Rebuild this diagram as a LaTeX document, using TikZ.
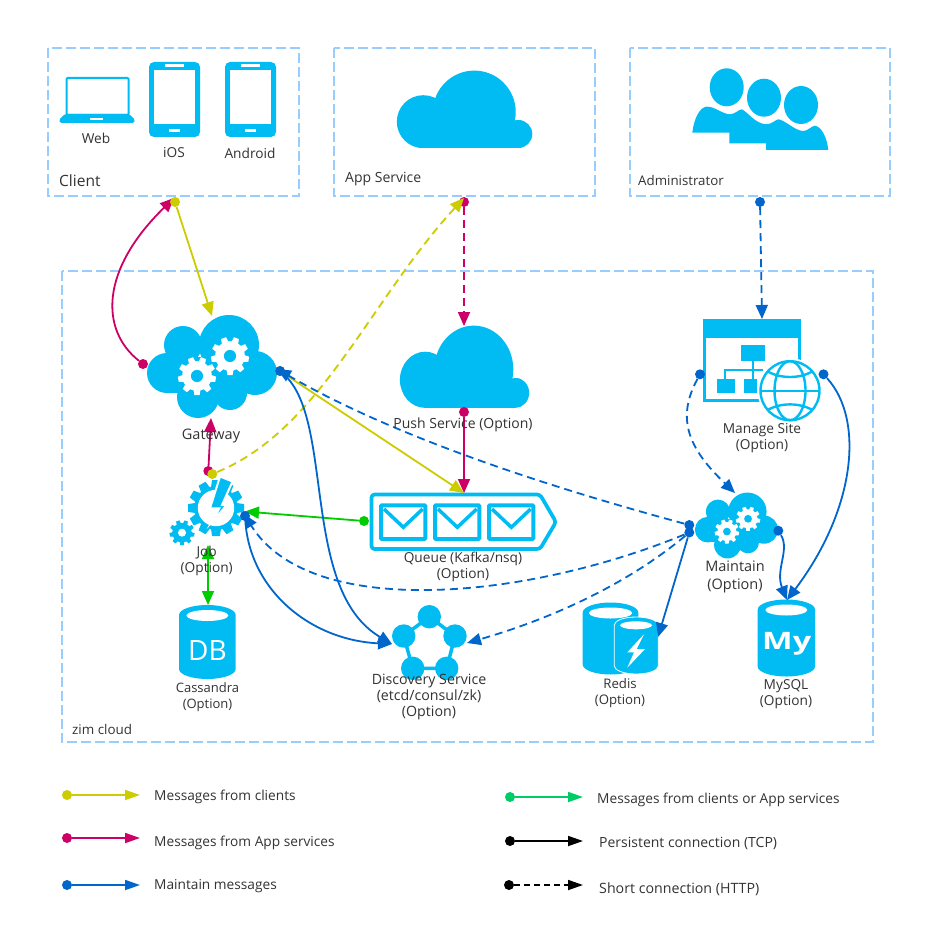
\documentclass[tikz,border=0pt]{standalone}
\usepackage{fontspec}
\setmainfont{Open Sans}
\usepackage{xcolor}
\usetikzlibrary{arrows.meta, positioning}
\definecolor{iconcyan}{HTML}{00BCF2}
\definecolor{boxblue}{HTML}{99CCFF}
\definecolor{msgyellow}{HTML}{CCCC00}
\definecolor{msgmagenta}{HTML}{CC0066}
\definecolor{msgblue}{HTML}{0066CC}
\definecolor{msggreen}{HTML}{00CC00}
\definecolor{msgmint}{HTML}{00CC66}
\definecolor{txtgray}{HTML}{333333}
\begin{document}
\begin{tikzpicture}[
    x=1pt, y=-1pt,
    >={Triangle[length=14pt,width=12pt]},
    zone/.style={draw=boxblue, line width=1.8pt, dash pattern=on 10pt off 4pt},
    lbl/.style={font=\fontsize{13.7}{16}\selectfont, text=txtgray, align=center, inner sep=0pt},
    caption/.style={lbl, anchor=west},
    dotnode/.style={circle, fill=#1, inner sep=0pt, minimum size=10pt},
    flow/.style={draw=#1, line width=1.8pt, ->},
    dashflow/.style={flow=#1, dash pattern=on 8pt off 5pt},
    legendtip/.style={line width=1.8pt, -{Triangle[length=15pt,width=10pt]}},
    icon/.style={fill=iconcyan},
    pics/cog/.style n args={4}{code={
        \fill[#1] (0,0) circle (.78);
        \foreach \a in {0,#4,...,359}
          \fill[#1, rotate=\a] (-.2,.6) -- (-.14,1) -- (.14,1) -- (.2,.6) -- cycle;
        \fill[#2] (0,0) circle (#3);
    }},
    pics/plaincloud/.style={code={
        \begin{scope}
          \clip (-80,-50) rectangle (80,38.65);
          \fill[iconcyan] (-40.7,12.35) circle (26.5);
          \fill[iconcyan] (10.3,2.65) circle (41.4);
          \fill[iconcyan] (54.3,24.65) circle (14);
          \fill[iconcyan] (-40.7,15) rectangle (54.3,38.65);
        \end{scope}
    }},
    pics/gearcloud/.style={code={
        \fill[iconcyan] (17,-21.5) circle (30);
        \fill[iconcyan] (-29,-21.5) circle (19);
        \fill[iconcyan] (-45,6.5) circle (20);
        \fill[iconcyan] (43,6.5) circle (22);
        \fill[iconcyan] (-14,30.5) circle (21);
        \fill[iconcyan] (18,26.5) circle (17);
        \fill[iconcyan] (-45,-10) rectangle (43,26);
        \pic[transform shape, scale=19] at (-15,9.5) {cog={white}{iconcyan}{.32}{40}};
        \pic[transform shape, scale=19] at (18,-10.5) {cog={white}{iconcyan}{.32}{40}};
    }},
    pics/phone/.style={code={
        \fill[iconcyan, rounded corners=5pt] (0,0) rectangle (51,75);
        \fill[white] (5,8) rectangle (46,62);
        \fill[white] (16,2.5) rectangle (35.3,5.3);
        \fill[white] (20,66.7) rectangle (31.3,69.7);
    }},
    pics/dbcan/.style n args={3}{code={
        % width, height, hole width
        \fill[iconcyan] (0,10) arc[start angle=180, end angle=360, x radius=#1/2, y radius=10]
          -- (#1,#2-10) arc[start angle=0, end angle=180, x radius=#1/2, y radius=10] -- cycle;
        \fill[white] (#1/2,10.5) ellipse ({#3} and 5.5);
    }},
  ]
  \fill[white] (0,0) rectangle (949,941);
  \useasboundingbox (0,0) rectangle (949,941);

  % Zones
  \draw[zone] (48,48) rectangle (299,196);
  \draw[zone] (334,48) rectangle (595,196);
  \draw[zone] (630,48) rectangle (890,196);
  \draw[zone] (62,271) rectangle (873,742);

  % Client icons
  \draw[draw=iconcyan, line width=2pt, fill=white, rounded corners=1pt] (66.5,78) rectangle (128.5,115);
  \fill[iconcyan, rounded corners=1.5pt] (65,114) -- (59,120) -- (60,123) -- (134,123) -- (135,120) -- (129,114) -- cycle;
  \fill[white] (90,118) rectangle (102.7,120);
  \pic at (149,62) {phone};
  \pic at (225,62) {phone};

  % App Service and Push Service
  \pic at (464,109.35) {plaincloud};
  \pic[xscale=.954, yscale=1.06] at (464,366.7) {plaincloud};

  % Administrator
  \fill[icon] (692.3,132.7) .. controls (694,118) and (700,107) .. (706.7,106.7)
    .. controls (714,106) and (722,114) .. (730,114.3)
    .. controls (735,114) and (738,110) .. (741.7,109.3)
    .. controls (748,112) and (755,124) .. (766.7,124.3)
    .. controls (772,124) and (775,120) .. (778.3,119.3)
    .. controls (785,120) and (795,131) .. (803.3,131)
    .. controls (808,131) and (811,126) .. (815,125.7)
    .. controls (822,127) and (827,138) .. (828.3,150)
    -- (766,150) -- (766,143.3) -- (729.3,143.3) -- (729.3,132.7) -- cycle;
  \fill[icon] (726.7,87.3) ellipse (17 and 19);
  \fill[icon] (764,97.7) ellipse (17 and 19);
  \fill[icon] (801,105) ellipse (17 and 19);

  % Gateway and Maintain
  \pic at (212,366.5) {gearcloud};
  \pic[scale=.64] at (736.5,525.5) {gearcloud};

  % Job
  \pic[scale=28] at (216,508) {cog={iconcyan}{white}{.65}{30}};
  \pic[scale=12.5] at (182,532.7) {cog={iconcyan}{white}{.32}{40}};
  \fill[iconcyan, draw=white, line width=2pt] (220,476.5) -- (232.5,481.5) -- (222,505) -- (227,505)
    -- (211.7,522) -- (219.3,508.3) -- (210,508.3) -- cycle;

  % Queue
  \draw[draw=iconcyan, line width=3.7pt, fill=white, rounded corners=3pt, line join=round]
    (371.5,494.5) -- (540,494.5) -- (556,522) -- (540,549) -- (371.5,549) -- cycle;
  \foreach \qx in {379,433,487} {
    \draw[draw=iconcyan, line width=4pt, rounded corners=1pt] (\qx+2,505.3) rectangle (\qx+46.3,539);
    \draw[draw=iconcyan, line width=3.5pt] (\qx+5,509) -- (\qx+24.3,527.3) -- (\qx+43.7,509);
  }

  % Manage Site
  \draw[draw=iconcyan, line width=2.7pt] (704.4,325) rectangle (799.6,400.6);
  \fill[icon] (703,319) rectangle (801,338);
  \fill[icon] (741,345) rectangle (765,361);
  \fill[icon] (717,379) rectangle (735,393);
  \fill[icon] (744,379) rectangle (757,393);
  \draw[draw=iconcyan, line width=1.8pt] (753,361) -- (753,379);
  \draw[draw=iconcyan, line width=1.8pt] (725,379) -- (725,370) -- (763,370);
  \fill[white] (790,390.7) circle (32.5);
  \draw[draw=iconcyan, line width=2.4pt] (790,390.7) circle (29.5);
  \draw[draw=iconcyan, line width=2.4pt] (790,390.7) ellipse (15.5 and 29.5);
  \draw[draw=iconcyan, line width=2.4pt] (760.5,390.7) -- (819.5,390.7);
  \draw[draw=iconcyan, line width=2.4pt] (767,371) .. controls (780,379) and (800,379) .. (813,371);
  \draw[draw=iconcyan, line width=2.4pt] (767,410.4) .. controls (780,402.4) and (800,402.4) .. (813,410.4);

  % Discovery Service
  \draw[draw=iconcyan, line width=3.5pt] (429.3,616.7) -- (455,636) -- (446.7,668.3) -- (412.7,668.3) -- (403.7,636) -- cycle;
  \foreach \sx/\sy in {429.3/616.7, 455/636, 446.7/668.3, 412.7/668.3, 403.7/636}
    \fill[icon] (\sx,\sy) circle (11.7);

  % Databases
  \pic at (179,605) {dbcan={56.7}{74}{21}};
  \node[font=\fontsize{28}{28}\selectfont, text=white, inner sep=0pt] (dbLogo) at (207.5,650) {DB};
  \pic at (582.7,602.5) {dbcan={55.6}{72}{21.7}};
  \fill[iconcyan, draw=white, line width=.8pt] (614.3,625) arc[start angle=180, end angle=360, x radius=22, y radius=8]
    -- (658.3,666) arc[start angle=0, end angle=180, x radius=22, y radius=8] -- cycle;
  \fill[white] (636,625.3) ellipse (16 and 4);
  \fill[white] (644,634.3) -- (627.3,652.3) -- (634,652.3) -- (627.3,667.7) -- (645,649) -- (636.7,649) -- cycle;
  \pic at (757.7,599.5) {dbcan={57.3}{77}{21}};
  \node[font=\fontsize{24}{24}\selectfont\bfseries, text=white, inner sep=0pt, xscale=1.35] (myLogo) at (786.7,644) {My};

  % Free ends of the connectors
  \coordinate (clientIn) at (174,198);
  \coordinate (gatewayTop) at (212,316);
  \coordinate (appIn) at (464,198);
  \coordinate (pushTop) at (464,326);
  \coordinate (queueTop) at (464,493);
  \coordinate (gatewayBottom) at (211,418);
  \coordinate (gatewayRight) at (277,369);
  \coordinate (jobRight) at (244,514);
  \coordinate (jobArrow) at (245,511.5);
  \coordinate (jobBottom) at (208,545);
  \coordinate (cassandraTop) at (208,605);
  \coordinate (discoveryLeft) at (392,644);
  \coordinate (discoveryRight) at (467,643);
  \coordinate (redisRight) at (658,637);
  \coordinate (mysqlTop) at (787,600);
  \coordinate (manageTop) at (762,319);
  \coordinate (maintainTop) at (735,493);

  % Messages from App services
  \node[dotnode=msgmagenta] (gatewayOut) at (143,364) {};
  \draw[flow=msgmagenta] (gatewayOut) .. controls (100,330) and (100,270) .. (clientIn);
  \node[dotnode=msgmagenta] (appOut) at (464,202) {};
  \draw[dashflow=msgmagenta] (appOut) -- (pushTop);
  \node[dotnode=msgmagenta] (pushOut) at (464,412) {};
  \draw[flow=msgmagenta] (pushOut) -- (queueTop);
  \node[dotnode=msgmagenta] (jobOut) at (208.3,471) {};
  \draw[flow=msgmagenta] (jobOut) -- (gatewayBottom);

  % Messages from clients
  \node[dotnode=msgyellow] (clientOut) at (175,202) {};
  \draw[flow=msgyellow] (clientOut) -- (gatewayTop);
  \node[dotnode=msgyellow] (jobApp) at (212.3,474) {};
  \draw[dashflow=msgyellow] (jobApp) .. controls (320,430) and (370,300) .. (appIn);
  \node[dotnode=msgyellow] (gatewayQueue) at (280,371) {};
  \draw[flow=msgyellow] (gatewayQueue) -- (queueTop);

  % Messages from clients or App services
  \node[dotnode=msggreen] (queueOut) at (364,521) {};
  \draw[flow=msggreen] (queueOut) -- (jobArrow);
  \draw[flow=msggreen, <->] (jobBottom) -- (cassandraTop);

  % Maintain messages
  \node[dotnode=msgblue] (adminOut) at (760,202) {};
  \draw[dashflow=msgblue] (adminOut) -- (manageTop);
  \node[dotnode=msgblue] (manageLeft) at (700,374.3) {};
  \draw[dashflow=msgblue] (manageLeft) .. controls (675,420) and (690,450) .. (maintainTop);
  \node[dotnode=msgblue] (manageRight) at (823.5,374.3) {};
  \draw[flow=msgblue] (manageRight) .. controls (865,420) and (855,510) .. (mysqlTop);
  \node[dotnode=msgblue] (maintainRight) at (778.3,530.7) {};
  \draw[flow=msgblue] (maintainRight) .. controls (790,550) and (775,570) .. (mysqlTop);
  \node[dotnode=msgblue] (maintainUp) at (689.3,525) {};
  \draw[dashflow=msgblue] (maintainUp) .. controls (560,490) and (400,440) .. (gatewayRight);
  \node[dotnode=msgblue] (maintainLeft) at (689.3,532.5) {};
  \draw[dashflow=msgblue] (maintainLeft) .. controls (525,600) and (310,620) .. (jobRight);
  \draw[dashflow=msgblue] (maintainLeft) .. controls (620,590) and (540,622) .. (discoveryRight);
  \draw[flow=msgblue] (maintainLeft) -- (redisRight);
  \node[dotnode=msgblue] (gatewayLink) at (280,371) {};
  \draw[flow=msgblue] (gatewayLink) .. controls (335,420) and (300,590) .. (discoveryLeft);
  \node[dotnode=msgblue] (jobLink) at (245,516) {};
  \draw[flow=msgblue] (jobLink) .. controls (250,590) and (310,640) .. (discoveryLeft);

  % Labels
  \node[lbl] (webLbl) at (96,138) {Web};
  \node[lbl] (iosLbl) at (174,153) {iOS};
  \node[lbl] (androidLbl) at (250,153) {Android};
  \node[caption, font=\fontsize{15.5}{16}\selectfont] (clientLbl) at (59,181) {Client};
  \node[caption, font=\fontsize{14}{16}\selectfont] (appLbl) at (345,179.5) {App Service};
  \node[caption, font=\fontsize{13.3}{16}\selectfont] (adminLbl) at (638,181) {Administrator};
  \node[caption, font=\fontsize{13.4}{16}\selectfont] (zimLbl) at (72,729.5) {zim cloud};
  \node[lbl, font=\fontsize{14.5}{16}\selectfont] (gatewayLbl) at (211,436) {Gateway};
  \node[lbl, font=\fontsize{14}{16}\selectfont] (pushLbl) at (463,425) {Push Service (Option)};
  \node[lbl] (jobLbl) at (206.7,561) {Job\\(Option)};
  \node[lbl] (queueLbl) at (463,567) {Queue (Kafka/nsq)\\(Option)};
  \node[lbl] (manageLbl) at (762,438) {Manage Site\\(Option)};
  \node[lbl, font=\fontsize{14.5}{18}\selectfont] (maintainLbl) at (735,577) {Maintain\\(Option)};
  \node[lbl, font=\fontsize{13}{16}\selectfont] (cassandraLbl) at (207.5,697) {Cassandra\\(Option)};
  \node[lbl, font=\fontsize{14.2}{16}\selectfont] (discoveryLbl) at (429,697) {Discovery Service\\(etcd/consul/zk)\\(Option)};
  \node[lbl, font=\fontsize{13.2}{16}\selectfont] (redisLbl) at (620,693) {Redis\\(Option)};
  \node[lbl] (mysqlLbl) at (786,694) {MySQL\\(Option)};

  % Legend
  \node[dotnode=msgyellow] (keyClients) at (67,795) {};
  \coordinate (keyClientsEnd) at (140,795);
  \draw[legendtip, draw=msgyellow] (keyClients) -- (keyClientsEnd);
  \node[caption] (keyClientsLbl) at (154,797) {Messages from clients};
  \node[dotnode=msgmagenta] (keyApps) at (67,838) {};
  \coordinate (keyAppsEnd) at (140,838);
  \draw[legendtip, draw=msgmagenta] (keyApps) -- (keyAppsEnd);
  \node[caption] (keyAppsLbl) at (154,843) {Messages from App services};
  \node[dotnode=msgblue] (keyMaintain) at (67,885) {};
  \coordinate (keyMaintainEnd) at (140,885);
  \draw[legendtip, draw=msgblue] (keyMaintain) -- (keyMaintainEnd);
  \node[caption] (keyMaintainLbl) at (154,886) {Maintain messages};
  \node[dotnode=msgmint] (keyEither) at (510,797) {};
  \coordinate (keyEitherEnd) at (583,797);
  \draw[legendtip, draw=msgmint] (keyEither) -- (keyEitherEnd);
  \node[caption] (keyEitherLbl) at (597,800) {Messages from clients or App services};
  \node[dotnode=black] (keyTcp) at (510,841) {};
  \coordinate (keyTcpEnd) at (583,841);
  \draw[legendtip, draw=black] (keyTcp) -- (keyTcpEnd);
  \node[caption, font=\fontsize{14}{16}\selectfont] (keyTcpLbl) at (599,843) {Persistent connection (TCP)};
  \node[dotnode=black] (keyHttp) at (509,885) {};
  \coordinate (keyHttpEnd) at (583,885);
  \draw[legendtip, draw=black, dash pattern=on 6pt off 4pt] (keyHttp) -- (keyHttpEnd);
  \node[caption, font=\fontsize{14.2}{16}\selectfont] (keyHttpLbl) at (599,889) {Short connection (HTTP)};
\end{tikzpicture}
\end{document}
